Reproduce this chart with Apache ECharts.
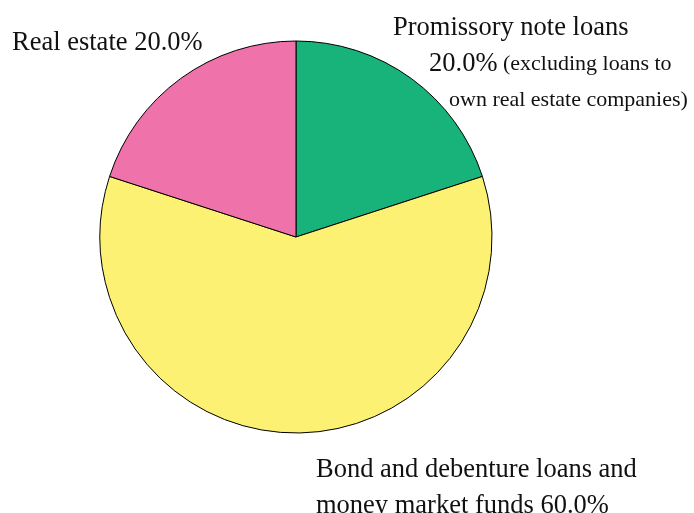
<!DOCTYPE html>
<html>
<head>
<meta charset="utf-8">
<script src="https://cdn.jsdelivr.net/npm/echarts@6/dist/echarts.min.js"></script>
<style>
  html, body { margin: 0; padding: 0; background: #fff; }
  #chart { width: 694px; height: 513px; }
</style>
</head>
<body>
<div id="chart"></div>
<script>
// Portfolio allocation by asset class (share of total, %)
const categories = [
  'Promissory note loans',
  'Bond and debenture loans and money market funds',
  'Real estate'
];
const shares = [20.0, 60.0, 20.0];
const colors = ['#17b37b', '#fdf173', '#ef73aa'];

const fontFamily = '"Liberation Serif", "DejaVu Serif", serif';

function pct(v) { return v.toFixed(1) + '%'; }

// Label text for each slice, built from the category names and shares
function labelText(i) {
  const v = pct(shares[i]);
  if (i === 0) {
    return '{big|Promissory note loans}\n{ind1|}{big|' + v + '}{small| (excluding loans to}\n{ind2|}{small|own real estate companies)}';
  }
  if (i === 1) {
    return '{big|Bond and debenture loans and}\n{big|money market funds ' + v + '}';
  }
  return '{big|Real estate ' + v + '}';
}

// Where each label block sits (top-left corner)
const labelSpots = [
  { x: 393, y: 10 },
  { x: 316, y: 452 },
  { x: 12, y: 25 }
];

const chart = echarts.init(document.getElementById('chart'));
chart.setOption({
  animation: false,
  series: [{
    type: 'pie',
    center: [296, 237],
    radius: 196,
    startAngle: 90,
    clockwise: true,
    silent: true,
    itemStyle: { borderColor: '#000', borderWidth: 1 },
    label: {
      show: true,
      position: 'outside',
      formatter: p => labelText(p.dataIndex),
      color: '#111',
      fontFamily: fontFamily,
      overflow: 'none',
      width: 400,
      rich: {
        big: { fontSize: 26.5, fontFamily: fontFamily, color: '#111', lineHeight: 36 },
        small: { fontSize: 22, fontFamily: fontFamily, color: '#111', lineHeight: 36 },
        ind1: { width: 36 },
        ind2: { width: 56 }
      }
    },
    labelLine: { show: false },
    labelLayout: p => ({
      x: labelSpots[p.dataIndex].x,
      y: labelSpots[p.dataIndex].y,
      align: 'left',
      verticalAlign: 'top'
    }),
    data: categories.map((name, i) => ({
      name: name,
      value: shares[i],
      itemStyle: { color: colors[i] }
    }))
  }]
});
</script>
</body>
</html>
